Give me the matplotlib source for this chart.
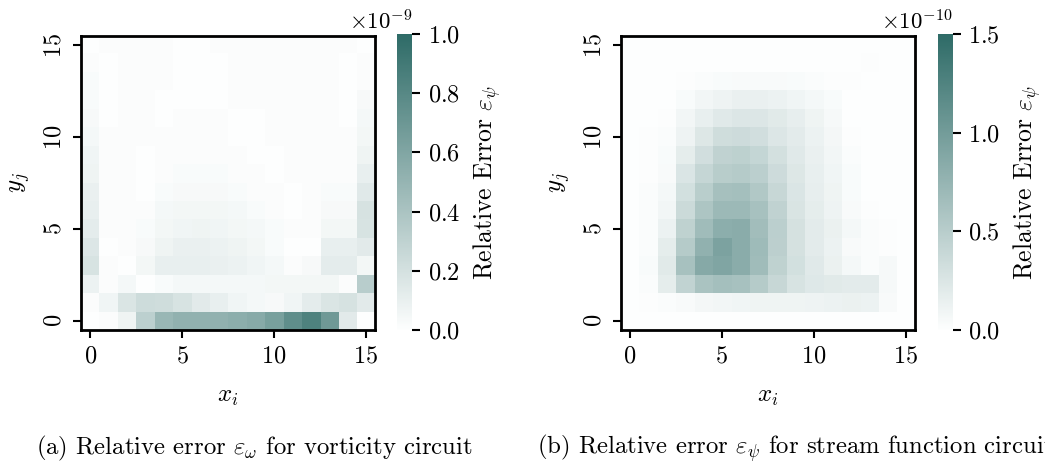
import numpy as np
import matplotlib
matplotlib.use("Agg")
import matplotlib.pyplot as plt
from matplotlib.colors import LinearSegmentedColormap

plt.rcParams["font.family"] = "serif"
plt.rcParams["font.serif"] = ["cmr10", "DejaVu Serif"]
plt.rcParams["mathtext.fontset"] = "cm"
plt.rcParams["axes.formatter.use_mathtext"] = True

# ── data: relative error per grid cell, rows j = 0..15 (bottom -> top) ──
# panel (a): vorticity circuit, units of 1e-9
err_omega = [
    [0.00, 0.01, 0.07, 0.31, 0.48, 0.52, 0.52, 0.52, 0.54, 0.57, 0.64, 0.76, 0.84, 0.68, 0.13, 0.00],
    [0.01, 0.06, 0.17, 0.23, 0.22, 0.18, 0.13, 0.10, 0.06, 0.04, 0.03, 0.06, 0.12, 0.17, 0.19, 0.13],
    [0.08, 0.01, 0.04, 0.00, 0.02, 0.04, 0.04, 0.04, 0.04, 0.04, 0.05, 0.05, 0.05, 0.05, 0.01, 0.33],
    [0.18, 0.01, 0.00, 0.05, 0.10, 0.10, 0.10, 0.09, 0.08, 0.06, 0.04, 0.01, 0.03, 0.12, 0.12, 0.05],
    [0.16, 0.00, 0.01, 0.03, 0.07, 0.09, 0.09, 0.08, 0.07, 0.05, 0.02, 0.00, 0.00, 0.10, 0.10, 0.13],
    [0.12, 0.01, 0.01, 0.02, 0.05, 0.06, 0.07, 0.06, 0.05, 0.04, 0.02, 0.01, 0.01, 0.05, 0.05, 0.18],
    [0.10, 0.01, 0.01, 0.01, 0.04, 0.05, 0.05, 0.05, 0.04, 0.02, 0.01, 0.00, 0.01, 0.03, 0.03, 0.19],
    [0.09, 0.01, 0.01, 0.00, 0.02, 0.03, 0.03, 0.03, 0.02, 0.01, 0.01, 0.00, 0.01, 0.02, 0.02, 0.14],
    [0.07, 0.01, 0.01, 0.00, 0.01, 0.02, 0.02, 0.02, 0.01, 0.01, 0.00, 0.01, 0.01, 0.01, 0.01, 0.10],
    [0.06, 0.01, 0.01, 0.00, 0.01, 0.01, 0.01, 0.01, 0.01, 0.00, 0.00, 0.01, 0.01, 0.01, 0.01, 0.07],
    [0.04, 0.01, 0.01, 0.01, 0.01, 0.01, 0.01, 0.01, 0.00, 0.00, 0.01, 0.01, 0.01, 0.01, 0.01, 0.05],
    [0.03, 0.00, 0.01, 0.01, 0.00, 0.01, 0.01, 0.01, 0.00, 0.00, 0.01, 0.01, 0.01, 0.01, 0.00, 0.04],
    [0.02, 0.00, 0.01, 0.01, 0.00, 0.00, 0.00, 0.00, 0.01, 0.01, 0.01, 0.01, 0.01, 0.01, 0.00, 0.03],
    [0.02, 0.00, 0.01, 0.01, 0.01, 0.00, 0.00, 0.00, 0.01, 0.01, 0.01, 0.01, 0.01, 0.01, 0.00, 0.01],
    [0.01, 0.00, 0.01, 0.01, 0.01, 0.00, 0.00, 0.00, 0.01, 0.01, 0.01, 0.01, 0.01, 0.01, 0.00, 0.01],
    [0.00, 0.01, 0.01, 0.01, 0.01, 0.00, 0.00, 0.01, 0.01, 0.01, 0.01, 0.01, 0.01, 0.01, 0.01, 0.00],
]

# panel (b): stream function circuit, units of 1e-10
err_psi = [
    [0.00, 0.00, 0.00, 0.00, 0.00, 0.00, 0.00, 0.00, 0.00, 0.00, 0.00, 0.00, 0.00, 0.00, 0.00, 0.00],
    [0.00, 0.01, 0.02, 0.04, 0.07, 0.08, 0.09, 0.10, 0.10, 0.10, 0.11, 0.12, 0.13, 0.12, 0.04, 0.00],
    [0.00, 0.02, 0.17, 0.43, 0.60, 0.64, 0.62, 0.52, 0.39, 0.27, 0.22, 0.20, 0.19, 0.19, 0.05, 0.00],
    [0.00, 0.03, 0.20, 0.62, 0.86, 0.90, 0.83, 0.67, 0.45, 0.31, 0.21, 0.13, 0.06, 0.02, 0.05, 0.00],
    [0.00, 0.02, 0.17, 0.52, 0.78, 0.93, 0.83, 0.68, 0.47, 0.29, 0.19, 0.12, 0.04, 0.02, 0.01, 0.00],
    [0.00, 0.02, 0.12, 0.45, 0.67, 0.81, 0.83, 0.66, 0.48, 0.29, 0.19, 0.13, 0.06, 0.02, 0.01, 0.00],
    [0.00, 0.02, 0.08, 0.36, 0.58, 0.70, 0.70, 0.62, 0.44, 0.26, 0.17, 0.11, 0.04, 0.01, 0.00, 0.00],
    [0.00, 0.02, 0.06, 0.31, 0.49, 0.63, 0.64, 0.55, 0.39, 0.25, 0.16, 0.10, 0.03, 0.00, 0.00, 0.00],
    [0.00, 0.01, 0.04, 0.25, 0.40, 0.50, 0.52, 0.48, 0.35, 0.23, 0.15, 0.09, 0.03, 0.00, 0.00, 0.00],
    [0.00, 0.01, 0.03, 0.17, 0.32, 0.44, 0.46, 0.41, 0.30, 0.21, 0.14, 0.08, 0.02, 0.00, 0.00, 0.00],
    [0.00, 0.01, 0.02, 0.11, 0.23, 0.33, 0.35, 0.32, 0.24, 0.19, 0.12, 0.07, 0.01, 0.00, 0.00, 0.00],
    [0.00, 0.00, 0.01, 0.08, 0.15, 0.21, 0.24, 0.24, 0.20, 0.16, 0.10, 0.05, 0.00, 0.00, 0.00, 0.00],
    [0.00, 0.00, 0.00, 0.03, 0.08, 0.11, 0.14, 0.14, 0.12, 0.09, 0.06, 0.03, 0.00, 0.00, 0.00, 0.00],
    [0.00, 0.00, 0.00, 0.01, 0.02, 0.03, 0.04, 0.04, 0.04, 0.03, 0.02, 0.01, 0.01, 0.00, 0.00, 0.00],
    [0.00, 0.00, 0.00, 0.00, 0.00, 0.00, 0.00, 0.00, 0.00, 0.00, 0.00, 0.00, 0.00, 0.01, 0.00, 0.00],
    [0.00, 0.00, 0.00, 0.00, 0.00, 0.00, 0.00, 0.00, 0.00, 0.00, 0.00, 0.00, 0.00, 0.00, 0.00, 0.00],
]

scale_omega = 1e-9
scale_psi = 1e-10
vmax_omega = 1.0
vmax_psi = 1.5
ticks_omega = [0.0, 0.2, 0.4, 0.6, 0.8, 1.0]
ticks_psi = [0.0, 0.5, 1.0, 1.5]
grid_ticks = [0, 5, 10, 15]
captions = [r"(a) Relative error $\varepsilon_\omega$ for vorticity circuit",
            r"(b) Relative error $\varepsilon_\psi$ for stream function circuit"]
cbar_label = r"Relative Error $\varepsilon_\psi$"

cmap = LinearSegmentedColormap.from_list("teal", ["#fdfefe", "#2e6b67"])

fig = plt.figure(figsize=(10.45, 4.66), dpi=100)

panels = [
    (err_omega, scale_omega, vmax_omega, ticks_omega, 0.0775, 0.380),
    (err_psi, scale_psi, vmax_psi, ticks_psi, 0.594, 0.8975),
]
caption_x = [36 / 1045, 537 / 1045]

for k, (vals, scale, vmax, cticks, ax_left, cb_left) in enumerate(panels):
    data = np.array(vals) * scale
    ax = fig.add_axes([ax_left, 0.292, 0.2815, 0.631])
    im = ax.imshow(data, origin="lower", cmap=cmap, vmin=0, vmax=vmax * scale,
                   aspect="auto", interpolation="nearest")
    ax.set_xticks(grid_ticks)
    ax.set_yticks(grid_ticks)
    ax.tick_params(labelsize=17.5, width=1.5, length=6, pad=5)
    for lab in ax.get_yticklabels():
        lab.set_rotation(90)
        lab.set_va("center")
    ax.set_xlabel("$x_i$", fontsize=18, labelpad=13)
    ax.set_ylabel("$y_j$", fontsize=18, labelpad=8)
    for s in ax.spines.values():
        s.set_linewidth(2.0)

    cax = fig.add_axes([cb_left, 0.292, 0.0145, 0.635])
    cb = fig.colorbar(im, cax=cax)
    cb.outline.set_visible(False)
    cb.set_ticks([t * scale for t in cticks])
    cb.formatter.set_useMathText(True)
    cb.formatter.set_powerlimits((0, 0))
    cb.update_ticks()
    cb.ax.tick_params(labelsize=17.5, width=1.5, length=6, pad=5)
    cb.ax.yaxis.get_offset_text().set_fontsize(16.5)
    cb.set_label(cbar_label, fontsize=18.5, labelpad=8)

    fig.text(caption_x[k], 12 / 466, captions[k], fontsize=17.8, ha="left", va="baseline")

fig.savefig("out.png", dpi=100)
